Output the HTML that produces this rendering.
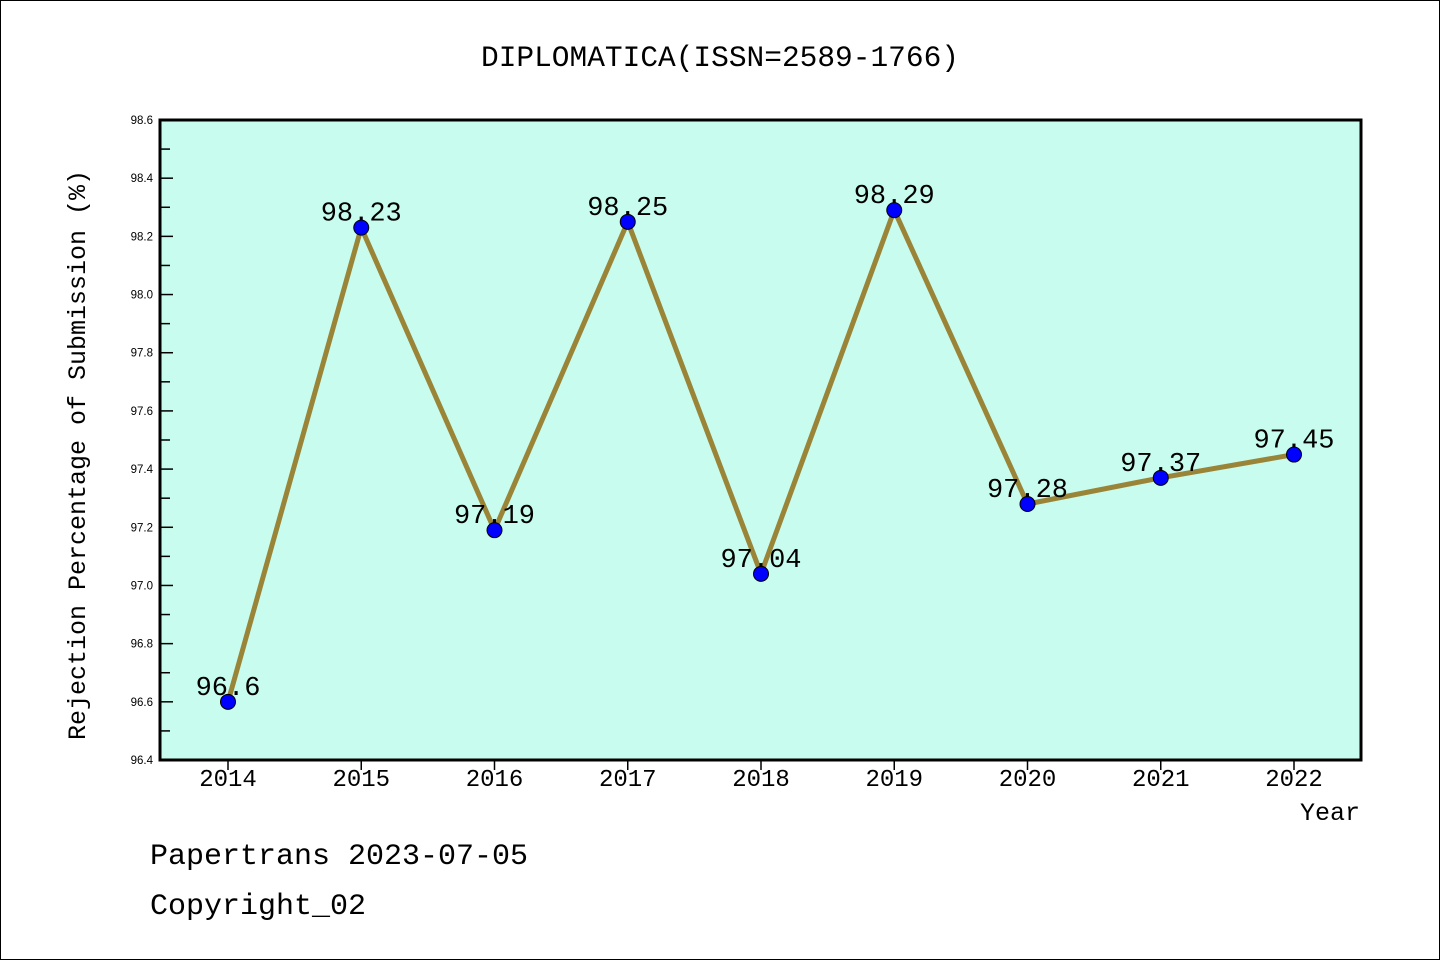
<!DOCTYPE html>
<html><head><meta charset="utf-8"><style>
body{margin:0;background:#fff}
svg text{font-family:"Liberation Mono","WenQuanYi Zen Hei",monospace}
svg text.sans{font-family:"Liberation Sans",sans-serif}
</style></head><body>
<svg width="1440" height="960" viewBox="0 0 1440 960">
<rect x="0.5" y="0.5" width="1439" height="959" fill="#fff" stroke="#000"/>
<text x="720" y="66" text-anchor="middle" font-size="29.5">DIPLOMATICA(ISSN=2589-1766)</text>
<rect x="160" y="120" width="1201" height="640" fill="#C8FCEE"/>
<g id="axes"></g>
<g id="marks"></g>
<rect x="160" y="120" width="1201" height="640" fill="none" stroke="#000" stroke-width="3"/>
<text transform="translate(85,455) rotate(-90)" text-anchor="middle" font-size="25">Rejection Percentage of Submission (%)</text>
<text x="1360" y="820" text-anchor="end" font-size="25">Year</text>
<text x="150" y="864" font-size="30">Papertrans 2023-07-05</text>
<text x="150" y="914" font-size="30">Copyright_02</text>
</svg>
<script>
const years=[2014,2015,2016,2017,2018,2019,2020,2021,2022];
const values=[96.6,98.23,97.19,98.25,97.04,98.29,97.28,97.37,97.45];
const labels=["96.6","98.23","97.19","98.25","97.04","98.29","97.28","97.37","97.45"];
const yTicks=["96.4","96.6","96.8","97.0","97.2","97.4","97.6","97.8","98.0","98.2","98.4","98.6"];
const NS="http://www.w3.org/2000/svg";
const yMin=96.4,yMax=98.6;
function sx(i){return 228+i*(1294-228)/(years.length-1);}
function sy(v){return 760-(v-yMin)/(yMax-yMin)*640;}
function mk(t,a,p){const e=document.createElementNS(NS,t);for(const k in a)e.setAttribute(k,a[k]);p.appendChild(e);return e;}
const ax=document.getElementById('axes'),mg=document.getElementById('marks');
yTicks.forEach((t,i)=>{
 const v=parseFloat(t),y=sy(v);
 const l=mk('line',{x1:160,x2:173,y1:y,y2:y,stroke:'#000','stroke-width':1.5},ax);
 
 
 const tx=mk('text',{x:153,y:y+4,'text-anchor':'end','font-size':11.5,'class':'sans'},ax);
 tx.textContent=t;
 
 
 if(i<yTicks.length-1){
  const ym=sy(v+0.1);
  const m=mk('line',{x1:160,x2:170,y1:ym,y2:ym,stroke:'#000','stroke-width':1.5},ax);
  
  
 }
});
years.forEach((yr,i)=>{
 const x=sx(i);
 const l=mk('line',{x1:x,x2:x,y1:760,y2:770,stroke:'#000','stroke-width':1.5},ax);
 
 
 const t=mk('text',{x:x,y:786,'text-anchor':'middle','font-size':24},ax);
 t.textContent=yr;
 
 
});
const pts=values.map((v,i)=>sx(i)+','+sy(v)).join(' ');
const pl=mk('polyline',{points:pts,fill:'none',stroke:'#9A8437','stroke-width':5,'stroke-linejoin':'round'},mg);


values.forEach((v,i)=>{
 const c=mk('circle',{cx:sx(i),cy:sy(v),r:7.5,fill:'#0000FF',stroke:'#000','stroke-width':1},mg);
 
 
 const t=mk('text',{x:sx(i),y:sy(v)-7,'text-anchor':'middle','font-size':27},mg);
 t.textContent=labels[i];
 
 
});
</script>
</body></html>
